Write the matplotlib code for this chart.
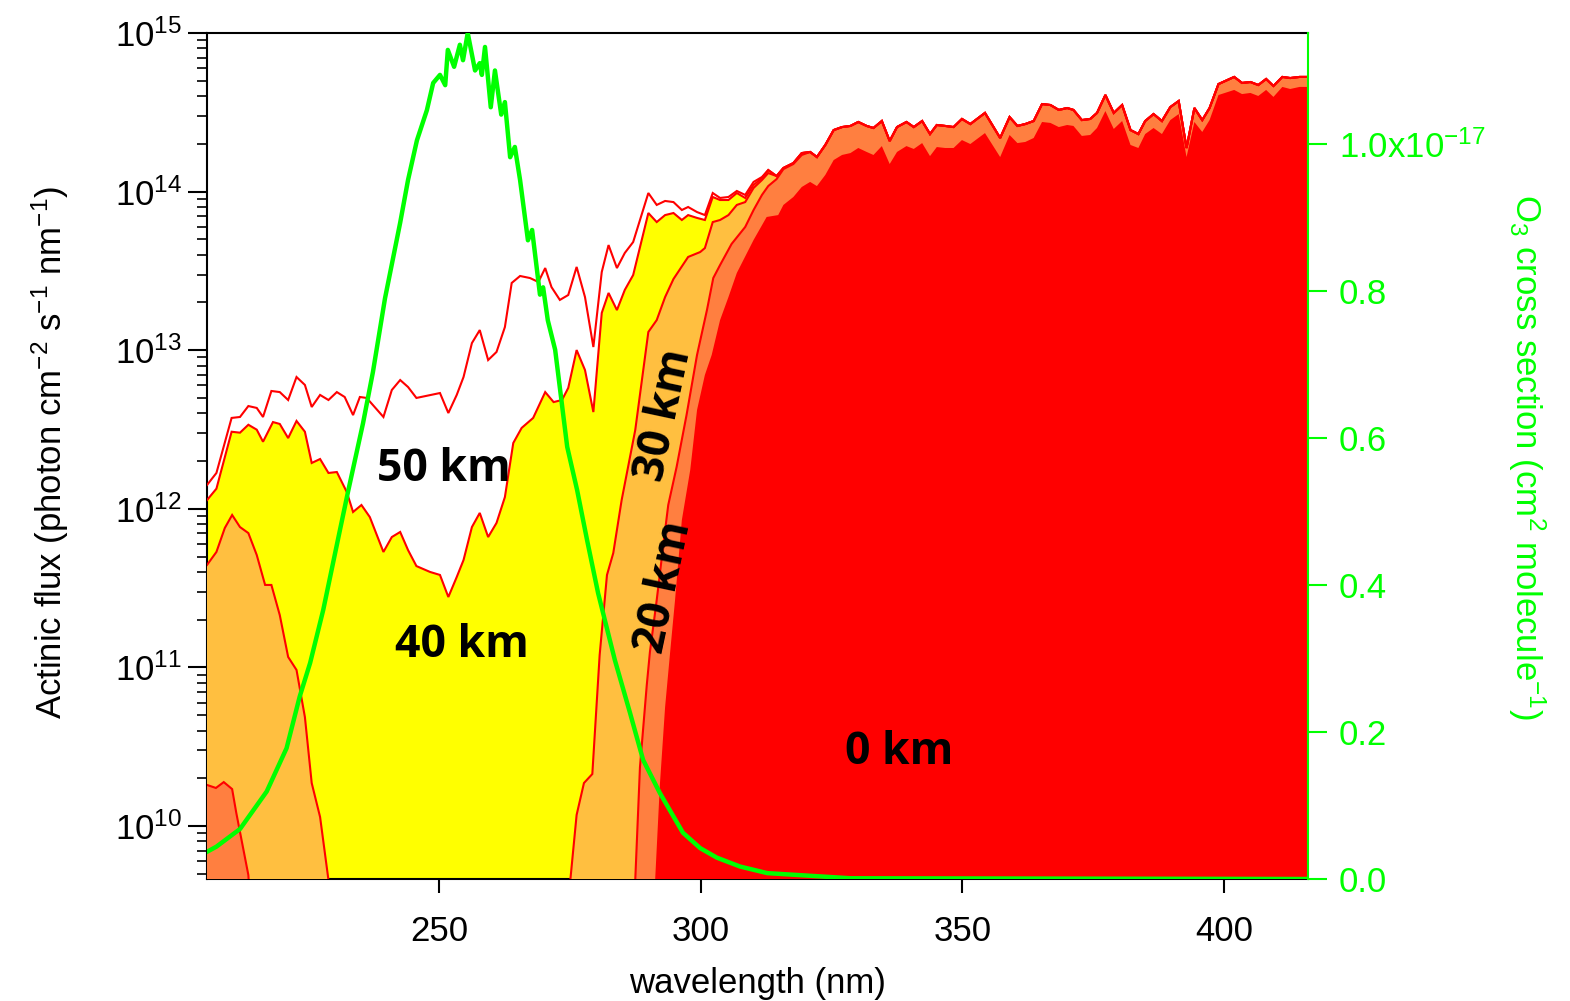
import numpy as np
import matplotlib
matplotlib.use('Agg')
import matplotlib.pyplot as plt
from matplotlib.ticker import LogLocator, NullFormatter

plt.rcParams['font.family'] = ['Liberation Sans', 'DejaVu Sans']
plt.rcParams['mathtext.fontset'] = 'custom'
plt.rcParams['mathtext.rm'] = 'Liberation Sans'
plt.rcParams['mathtext.it'] = 'Liberation Sans:italic'
plt.rcParams['mathtext.bf'] = 'Liberation Sans:bold'

# ---------------- data (wavelength in nm, log10 of actinic flux) ----------------
wl_50km = [205.7, 207.5, 210.4, 212.0, 213.6, 215.2, 216.4, 218.0, 219.6, 221.2, 222.8, 224.4, 225.7, 227.3,
           228.9, 230.5, 232.0, 233.6, 234.9, 236.2, 239.4, 241.0, 242.6, 244.1, 245.7, 250.2, 251.8, 253.4,
           254.7, 256.3, 257.8, 259.4, 261.0, 262.6, 263.9, 265.5, 267.4, 269.0, 270.3, 271.5, 273.1, 274.7,
           276.3, 277.9, 279.5, 281.1, 282.4, 284.0, 285.5, 287.1, 290.0, 291.6, 293.2, 294.8, 296.4, 297.6,
           299.3, 300.8, 302.3, 303.7, 305.3, 306.9, 308.5, 310.1, 311.7, 312.9, 314.5, 315.8, 317.7, 319.3,
           320.9, 322.2, 323.8, 325.4, 327.0, 328.6, 330.1, 331.7, 333.0, 334.6, 336.1, 337.5, 339.3, 340.7,
           342.3, 343.8, 345.1, 346.7, 348.3, 349.9, 351.5, 354.3, 357.2, 359.0, 360.5, 362.0, 363.6, 365.2,
           366.8, 368.4, 370.0, 371.2, 372.8, 374.4, 375.7, 377.3, 378.9, 380.5, 382.1, 383.6, 384.9, 386.5,
           388.1, 389.7, 391.3, 392.8, 394.3, 395.8, 397.2, 398.9, 401.9, 403.4, 405.0, 406.5, 408.0, 409.4,
           411.1, 412.6, 414.4, 416.1]
log_flux_50km = [12.150, 12.226, 12.573, 12.579, 12.648, 12.636, 12.579, 12.743, 12.736, 12.686, 12.831, 12.781,
                 12.642, 12.718, 12.686, 12.736, 12.705, 12.591, 12.705, 12.699, 12.579, 12.749, 12.812, 12.768,
                 12.699, 12.730, 12.604, 12.718, 12.831, 13.045, 13.127, 12.938, 12.989, 13.146, 13.424, 13.468,
                 13.455, 13.430, 13.518, 13.398, 13.317, 13.348, 13.525, 13.335, 13.020, 13.493, 13.663, 13.518,
                 13.613, 13.682, 13.991, 13.916, 13.941, 13.934, 13.884, 13.903, 13.871, 13.852, 13.991, 13.960,
                 13.966, 14.004, 13.979, 14.061, 14.092, 14.136, 14.098, 14.149, 14.180, 14.243, 14.250, 14.218,
                 14.294, 14.388, 14.407, 14.414, 14.439, 14.414, 14.401, 14.445, 14.319, 14.407, 14.439, 14.407,
                 14.445, 14.363, 14.420, 14.414, 14.407, 14.458, 14.426, 14.496, 14.338, 14.470, 14.414, 14.426,
                 14.445, 14.552, 14.546, 14.515, 14.527, 14.515, 14.451, 14.458, 14.496, 14.609, 14.496, 14.546,
                 14.388, 14.363, 14.445, 14.489, 14.445, 14.533, 14.571, 14.275, 14.527, 14.451, 14.527, 14.678,
                 14.723, 14.685, 14.691, 14.672, 14.710, 14.666, 14.723, 14.716, 14.723, 14.723]

wl_40km = [205.7, 207.5, 210.4, 212.0, 213.6, 215.2, 216.4, 218.3, 219.6, 221.2, 222.8, 224.4, 225.7, 227.3,
           228.9, 230.5, 232.4, 233.6, 235.2, 236.8, 239.4, 241.0, 242.6, 244.1, 245.7, 248.3, 250.2, 251.8,
           253.4, 254.7, 256.3, 257.8, 259.4, 261.0, 262.6, 264.2, 265.8, 268.0, 270.3, 271.9, 273.5, 274.7,
           276.3, 277.9, 279.5, 281.1, 282.4, 284.0, 285.5, 287.1, 290.0, 291.6, 293.2, 294.8, 296.4, 297.6,
           299.3, 300.8, 302.3, 303.7, 305.3, 306.9, 308.5, 310.1, 311.7]
log_flux_40km = [12.055, 12.127, 12.486, 12.480, 12.530, 12.499, 12.423, 12.547, 12.535, 12.446, 12.554, 12.486,
                 12.289, 12.314, 12.226, 12.232, 12.106, 11.980, 12.024, 11.948, 11.728, 11.822, 11.854, 11.740,
                 11.639, 11.602, 11.583, 11.444, 11.570, 11.677, 11.885, 11.974, 11.822, 11.911, 12.074, 12.415,
                 12.510, 12.573, 12.736, 12.673, 12.686, 12.762, 13.001, 12.875, 12.610, 13.235, 13.361, 13.253,
                 13.380, 13.474, 13.865, 13.808, 13.852, 13.865, 13.821, 13.852, 13.834, 13.821, 13.966, 13.947,
                 13.947, 13.991, 13.960, 14.042, 14.086]

wl_30km = [205.7, 207.5, 209.1, 210.5, 212.0, 213.6, 215.2, 216.8, 218.0, 219.6, 221.2, 222.8, 224.4, 225.7,
           227.3, 228.9, 230.6, 274.6, 275.1, 276.3, 277.7, 279.3, 280.7, 282.1, 283.3, 284.9, 287.5, 290.0,
           291.6, 293.2, 294.8, 297.6, 299.9, 300.8, 302.3, 303.7, 305.3, 306.9, 308.5, 310.1, 311.7, 312.9]
log_flux_30km = [11.646, 11.728, 11.879, 11.961, 11.885, 11.847, 11.709, 11.520, 11.520, 11.330, 11.066, 10.984,
                 10.687, 10.271, 10.057, 9.660, 9.2, 9.2, 9.660, 10.070, 10.271, 10.328, 11.078, 11.583, 11.721,
                 12.055, 12.497, 13.115, 13.190, 13.335, 13.449, 13.588, 13.619, 13.644, 13.808, 13.821, 13.852,
                 13.916, 13.934, 14.023, 14.073, 14.117]

wl_20km = [205.7, 207.4, 208.9, 210.5, 211.3, 213.6, 214.6, 286.7, 287.5, 288.4, 289.7, 290.3, 291.6, 292.9,
           293.8, 295.4, 297.3, 299.3, 301.2, 302.4, 303.7, 305.9, 308.5, 310.1, 311.7, 312.9, 314.5, 315.8,
           317.7, 319.3]
log_flux_20km = [10.259, 10.240, 10.277, 10.233, 10.082, 9.691, 9.2, 9.2, 9.660, 10.372, 10.889, 11.097, 11.425,
                 11.784, 12.024, 12.264, 12.592, 12.970, 13.254, 13.455, 13.537, 13.670, 13.777, 13.884, 13.979,
                 14.035, 14.079, 14.142, 14.174, 14.231]

wl_0km = [290.8, 291.3, 292.2, 293.2, 294.2, 295.1, 296.4, 298.0, 299.3, 300.8, 302.1, 303.7, 305.3, 306.9,
          310.1, 312.6, 314.8, 315.8, 317.7, 319.3, 320.9, 322.2, 323.8, 325.4, 327.0, 328.6, 330.1, 331.7,
          333.0, 334.6, 336.1, 337.5, 339.3, 340.7, 342.3, 343.8, 345.1, 346.7, 348.3, 349.9, 351.5, 354.3,
          357.2, 359.0, 360.5, 362.0, 363.6, 365.2, 366.8, 368.4, 370.0, 371.2, 372.8, 374.4, 375.7, 377.3,
          378.9, 380.5, 382.1, 383.6, 384.9, 386.5, 388.1, 389.7, 391.3, 392.8, 394.3, 395.8, 397.2, 398.9,
          401.9, 403.4, 405.0, 406.5, 408.0, 409.4, 411.1, 412.6, 414.4, 416.1]
log_flux_0km = [9.2, 9.66, 10.259, 10.750, 11.110, 11.425, 11.929, 12.245, 12.623, 12.844, 12.970, 13.190, 13.335,
                13.487, 13.695, 13.840, 13.852, 13.916, 13.966, 14.029, 14.061, 14.035, 14.105, 14.199, 14.231,
                14.243, 14.275, 14.250, 14.231, 14.287, 14.174, 14.250, 14.287, 14.269, 14.306, 14.224, 14.281,
                14.275, 14.275, 14.325, 14.300, 14.369, 14.218, 14.357, 14.306, 14.313, 14.338, 14.439, 14.433,
                14.407, 14.420, 14.414, 14.351, 14.357, 14.401, 14.508, 14.395, 14.445, 14.294, 14.275, 14.363,
                14.401, 14.363, 14.451, 14.489, 14.218, 14.439, 14.376, 14.451, 14.609, 14.641, 14.615, 14.622,
                14.603, 14.641, 14.597, 14.660, 14.647, 14.660, 14.660]

# O3 absorption cross section, units of 1e-17 cm2 molecule-1
wl_o3 = [205.7, 207.5, 212.0, 217.1, 220.9, 223.4, 225.4, 227.9, 231.1, 232.7, 235.5, 237.4, 239.7, 242.6, 244.1,
         245.8, 247.7, 248.9, 250.2, 251.2, 251.7, 252.9, 254.0, 254.6, 255.5, 256.9, 257.8, 258.2, 258.8, 259.9,
         260.7, 261.9, 262.6, 263.6, 264.5, 265.5, 267.0, 267.8, 269.3, 269.9, 270.8, 272.2, 274.5, 276.4, 278.3,
         280.4, 283.6, 286.5, 289.0, 292.2, 296.6, 299.9, 303.1, 307.5, 312.7, 328.6, 416.1]
xs_o3 = [0.037, 0.044, 0.068, 0.119, 0.178, 0.248, 0.294, 0.366, 0.475, 0.529, 0.62, 0.69, 0.79, 0.893, 0.951,
         1.005, 1.046, 1.083, 1.094, 1.080, 1.128, 1.105, 1.135, 1.114, 1.151, 1.10, 1.11, 1.094, 1.132, 1.05,
         1.10, 1.04, 1.057, 0.982, 0.996, 0.951, 0.869, 0.883, 0.795, 0.805, 0.76, 0.72, 0.588, 0.529, 0.461,
         0.389, 0.298, 0.226, 0.162, 0.117, 0.063, 0.042, 0.029, 0.017, 0.008, 0.001, 0.0]

x_ticks = [250, 300, 350, 400]
xs_ticks = [0.0, 0.2, 0.4, 0.6, 0.8, 1.0]
xs_ticklabels = ['0.0', '0.2', '0.4', '0.6', '0.8', '1.0x10$^{-17}$']
altitude_labels = ['50 km', '40 km', '30 km', '20 km', '0 km']

# ---------------- figure ----------------
W, H = 1570, 1001
fig = plt.figure(figsize=(W / 100, H / 100), dpi=100)
ax = fig.add_axes([207 / W, 1 - 879 / H, 1101 / W, 846 / H])
ax.set_yscale('log')
ax.set_xlim(205.7, 416.0)
ax.set_ylim(10 ** 9.666, 1e15)

wl_top = np.asarray(wl_50km)
lg_top = np.asarray(log_flux_50km)


def with_top(wl, lg):
    wl = np.asarray(wl, float)
    lg = np.asarray(lg, float)
    m = wl_top > wl[-1]
    return np.concatenate([wl, wl_top[m]]), np.concatenate([lg, lg_top[m]])


layers = [
    (wl_top, lg_top, '#FFFFFF', True),
    (*with_top(wl_40km, log_flux_40km), '#FFFF00', True),
    (*with_top(wl_30km, log_flux_30km), '#FFBF40', True),
    (*with_top(wl_20km, log_flux_20km), '#FF7F40', True),
    (np.asarray(wl_0km), np.asarray(log_flux_0km), '#FF0000', False),
]
floor = 1e8
for i, (wl, lg, col, edge) in enumerate(layers):
    ax.fill_between(wl, floor, 10 ** lg, color=col, lw=0, zorder=1 + i)
for wl, lg, col, edge in layers:
    if edge:
        ax.plot(wl, 10 ** lg, color='#FF0000', lw=1.5, zorder=7, solid_joinstyle='miter')

ax.set_xticks(x_ticks)
ax.yaxis.set_major_locator(LogLocator(base=10, numticks=20))
ax.yaxis.set_minor_locator(LogLocator(base=10, subs=np.arange(2, 10), numticks=20))
ax.yaxis.set_minor_formatter(NullFormatter())
ax.tick_params(axis='x', which='major', direction='out', length=10, width=1.5, labelsize=25, pad=16)
ax.tick_params(axis='y', which='major', direction='out', length=14, width=1.5, labelsize=25, pad=4)
ax.tick_params(axis='y', which='minor', direction='out', length=7, width=1.2)
for s in ['left', 'bottom', 'top']:
    ax.spines[s].set_linewidth(1.5)
    ax.spines[s].set_color('black')
ax.spines['right'].set_visible(False)

# altitude labels
lab_kw = dict(transform=ax.transAxes, fontsize=32, fontweight='bold', family=['Open Sans', 'DejaVu Sans'],
              color='black', ha='center', va='center', zorder=10)
ax.text(0.2150, 0.4840, altitude_labels[0], **lab_kw)
ax.text(0.2320, 0.2760, altitude_labels[1], **lab_kw)
ax.text(0.4155, 0.5485, altitude_labels[2], rotation=78, **lab_kw)
ax.text(0.4155, 0.3455, altitude_labels[3], rotation=78, **lab_kw)
ax.text(0.6290, 0.1500, altitude_labels[4], **lab_kw)

# ozone cross section on right axis
green = '#00FF00'
ax2 = ax.twinx()
ax2.set_ylim(0, 1.151)
ax2.plot(wl_o3, xs_o3, color=green, lw=3.2, zorder=5, solid_joinstyle='round')
ax2.set_yticks(xs_ticks)
ax2.set_yticklabels(xs_ticklabels)
ax2.tick_params(axis='y', colors=green, direction='out', length=14, width=1.5, labelsize=25, pad=8)
for s in ['left', 'bottom', 'top']:
    ax2.spines[s].set_visible(False)
ax2.spines['right'].set_color(green)
ax2.spines['right'].set_linewidth(1.5)

# axis titles
fig.text(757 / W, 1 - 983 / H, 'wavelength (nm)', fontsize=25, ha='center', va='center')
fig.text(50 / W, 1 - 452 / H, 'Actinic flux (photon cm$^{-2}$ s$^{-1}$ nm$^{-1}$)', fontsize=25,
         rotation=90, ha='center', va='center')
fig.text(1527 / W, 1 - 457 / H, 'O$_3$ cross section (cm$^{2}$ molecule$^{-1}$)', fontsize=25,
         rotation=270, ha='center', va='center', color=green)

fig.savefig('out.png', dpi=100)
